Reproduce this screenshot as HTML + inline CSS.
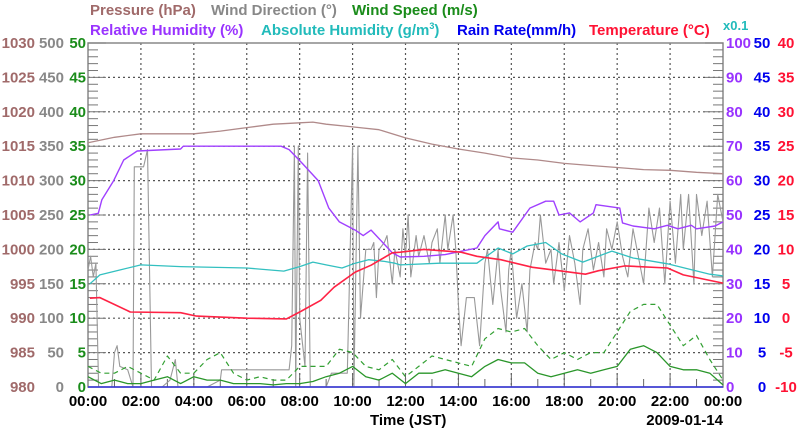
<!DOCTYPE html>
<html><head><meta charset="utf-8"><style>
html,body{margin:0;padding:0;background:#fff;}
svg{display:block;font-family:"Liberation Sans",sans-serif;font-weight:bold;}
</style></head><body>
<svg id="c" width="800" height="434" viewBox="0 0 800 434" xmlns="http://www.w3.org/2000/svg">
<g font-size="15">
<text x="90" y="15" fill="#a06a6a">Pressure (hPa)</text>
<text x="211" y="15" fill="#888">Wind Direction (°)</text>
<text x="352" y="15" fill="#1a8c1a">Wind Speed (m/s)</text>
<text x="90" y="35" fill="#9933ff">Relative Humidity (%)</text>
<text x="261" y="35" fill="#22bbbb">Absolute Humidity (g/m<tspan dy="-6" font-size="9">3</tspan><tspan dy="6">)</tspan></text>
<text x="457" y="35" fill="#0000ee">Rain Rate(mm/h)</text>
<text x="589" y="35" fill="#ff1133">Temperature (°C)</text>
<text x="723" y="30" fill="#22bbbb" font-size="13">x0.1</text>
</g>
<g id="grid"></g>
<g id="axes"></g>
<g id="series"></g>
<text x="370" y="425" font-size="15" fill="#000">Time (JST)</text>
<text x="723" y="425" font-size="15" fill="#000" text-anchor="end">2009-01-14</text>
</svg>
<script>
const xTickLabels=["00:00","02:00","04:00","06:00","08:00","10:00","12:00","14:00","16:00","18:00","20:00","22:00","00:00"];
const pressureTicks=[980,985,990,995,1000,1005,1010,1015,1020,1025,1030];
const windDirTicks=[0,50,100,150,200,250,300,350,400,450,500];
const windSpdTicks=[0,5,10,15,20,25,30,35,40,45,50];
const rhTicks=[0,10,20,30,40,50,60,70,80,90,100];
const rainTicks=[0,5,10,15,20,25,30,35,40,45,50];
const tempTicks=[-10,-5,0,5,10,15,20,25,30,35,40];

const pressureHours=[0,1,2,3,4,5,6,7,8,8.5,9,10,11,12,13,14,15,16,17,18,19,20,21,22,23,24];
const pressureVals=[1015.5,1016.3,1016.8,1016.8,1016.8,1017.2,1017.7,1018.2,1018.4,1018.5,1018.2,1017.8,1017.4,1016.2,1015.3,1014.6,1014,1013.3,1013,1012.5,1012.2,1011.9,1011.6,1011.5,1011.2,1011.0];

const rhHours=[0.07,0.39,0.52,0.97,1.35,1.86,3.5,3.6,7.3,7.6,8.1,8.7,9.1,9.5,10.1,10.4,10.7,11.5,11.8,12.7,13.5,14.7,15.0,15.5,15.55,16.05,16.7,17.3,17.6,17.8,18.2,18.6,19.1,19.2,20.1,20.2,20.6,21.4,21.9,22.3,22.8,23.0,23.7,24];
const rhVals=[50,50.5,54.4,60,66,68.6,69.2,70,70,69,65,60,52,48,45.6,44,45.6,39,37.8,38,38.5,40.4,44,48,46,45,52,54,54,50,50.6,48,50.6,53,52,47.7,46.8,46,47,46,47,46,46.8,48];

const tempHours=[0.07,0.45,1.6,3.5,4.1,6,7.5,8.0,8.8,9.3,10.1,10.7,11.5,11.8,12.7,14.1,14.7,15.6,16.8,17.8,18.8,19.3,20.3,21.9,22.5,24];
const tempVals=[2.9,3,0.9,0.8,0.3,0,-0.1,0.9,2.6,4.5,6.7,7.7,9.5,9.6,10,9.6,9,8.5,7.4,6.9,6.4,6.9,7.6,7.3,6.3,5.1];

const ahHours=[0.07,0.45,1.2,2.0,3.5,6,7.4,8.0,8.5,9.0,9.6,10.1,10.6,11.2,11.6,11.8,13.3,14.7,15.5,16.05,16.6,17.3,17.9,18.7,19.8,20.6,21.9,23.5,24];
const ahVals=[3.0,3.26,3.4,3.55,3.5,3.46,3.37,3.5,3.63,3.55,3.46,3.6,3.7,3.65,3.6,3.55,3.6,3.6,4.04,3.87,4.1,4.2,3.87,3.63,3.95,3.75,3.58,3.28,3.23];

const wdHours=[0,0.1,0.2,0.3,0.4,0.9,1.0,1.1,1.2,1.5,1.7,1.75,2.1,2.25,2.4,2.8,3.1,3.3,3.4,4.5,5.0,5.05,7.6,7.7,7.8,7.85,7.95,8.0,8.2,8.3,8.4,9.0,9.2,9.8,10.0,10.05,10.2,10.3,10.5,10.7,10.8,10.9,11.0,11.2,11.3,11.5,11.6,11.8,11.9,12.0,12.1,12.2,12.4,12.5,12.7,12.9,13.0,13.2,13.3,13.5,13.6,13.8,13.9,14.0,14.1,14.3,14.6,14.8,15.0,15.1,15.3,15.5,15.6,15.8,15.9,16.0,16.2,16.4,16.6,16.7,16.9,17.0,17.1,17.3,17.5,17.6,17.8,18.0,18.2,18.4,18.6,18.7,18.9,19.1,19.3,19.5,19.6,19.8,20.0,20.2,20.4,20.6,20.8,21.0,21.2,21.4,21.6,21.8,22.0,22.2,22.4,22.5,22.7,22.9,23.0,23.2,23.4,23.6,23.8,24];
const wdVals=[170,190,160,180,0,0,50,60,30,25,0,320,320,345,0,0,10,40,0,0,10,25,25,60,350,0,350,100,30,340,0,0,20,20,350,0,350,100,200,200,210,130,200,210,220,150,200,160,230,190,250,160,220,190,220,180,210,230,180,250,200,250,200,120,60,130,130,60,180,200,120,200,140,80,170,200,100,150,80,170,210,200,250,180,200,150,210,140,220,180,120,200,230,170,210,160,230,200,240,190,160,230,190,150,260,210,260,150,270,180,280,200,280,150,280,220,270,160,280,240];

const wsHours=[0,0.5,1,1.5,2,2.5,3,3.5,4,4.5,5,5.5,6,6.5,7,7.5,8,8.5,9,9.5,10,10.5,11,11.5,12,12.5,13,13.5,14,14.5,15,15.5,16,16.5,17,17.5,18,18.5,19,19.5,20,20.5,21,21.5,22,22.5,23,23.5,24];
const wsAvg=[1.5,0.5,1,0.5,0.5,1,1.5,0.5,1.5,1,1,0.5,0.5,0.5,0.3,0.5,0.5,0.8,1.5,2,3,1.5,1,2,0.5,2,2,2.5,2,1.5,3,4,3.5,3.5,2,1.5,2,2.5,2,2.5,3,5.5,6,5,3,2.5,2.5,2,0.3];
const wsGust=[3,2,2,3,2,1,4.5,2,2,4,5,2,1,1.5,1,1,3,3,3,5.5,5,3,2.5,4,1.5,3,4.5,4,3.5,3,7,8.5,8,8.5,6,4,5,4,5,5,8,11,12,12,9,6,7.5,4,1];
const rainHours=[0,24];
const rainVals=[0,0];

const L=88,R=723,T=43,B=387;
const NS="http://www.w3.org/2000/svg";
const xS=h=>L+(R-L)*h/24;
const lin=(lo,hi)=>v=>B-(B-T)*(v-lo)/(hi-lo);
const yP=lin(980,1030),yWD=lin(0,500),yWS=lin(0,50),yRH=lin(0,100),yAH=lin(0,10),yRain=lin(0,50),yT=lin(-10,40);
function mk(tag,attrs,parent){const e=document.createElementNS(NS,tag);for(const k in attrs)e.setAttribute(k,attrs[k]);parent.appendChild(e);return e;}
const grid=document.getElementById('grid'),axes=document.getElementById('axes'),ser=document.getElementById('series');

for(let i=1;i<12;i++){const x=xS(i*2);const g=mk('line',{x1:x,x2:x,y1:T,y2:B,stroke:'#555','stroke-width':1.2,'stroke-dasharray':'2,3'},grid);

}
for(let i=1;i<10;i++){const y=T+(B-T)*i/10;const g=mk('line',{x1:L,x2:R,y1:y,y2:y,stroke:'#555','stroke-width':1.2,'stroke-dasharray':'2,3'},grid);

}
const frame=mk('rect',{x:L,y:T,width:R-L,height:B-T,fill:'none',stroke:'#888','stroke-width':1.5},axes);


for(let i=0;i<=50;i++){const y=T+(B-T)*i/50;const len=i%5==0?18:10;
mk('line',{x1:L,x2:L+len,y1:y,y2:y,stroke:'#777','stroke-width':1},axes);
mk('line',{x1:R-len,x2:R,y1:y,y2:y,stroke:'#777','stroke-width':1},axes);}
for(let h=1;h<24;h++){const x=xS(h);mk('line',{x1:x,x2:x,y1:B,y2:B-(h%2==0?14:8),stroke:'#666','stroke-width':1},axes);}
function labels(arr,x,color,anchor,name){arr.forEach((v,i)=>{const y=B-(B-T)*i/10+5;const t=mk('text',{x:x,y:y,fill:color,'font-size':15,'text-anchor':anchor},axes);t.textContent=v;

});}
labels(pressureTicks,35,'#a06a6a','end','pressure-tick-label');
labels(windDirTicks,64,'#888','end','wind-direction-tick-label');
labels(windSpdTicks,86,'#1a8c1a','end','wind-speed-tick-label');
labels(rhTicks,726,'#9933ff','start','humidity-tick-label');
labels(rainTicks,762,'#0000ee','middle','rain-tick-label');
labels(tempTicks,786,'#ff1133','middle','temperature-tick-label');
xTickLabels.forEach((s,i)=>{const t=mk('text',{x:xS(i*2),y:406,'font-size':15,fill:'#000','text-anchor':'middle'},axes);t.textContent=s;

});

function line(hours,vals,ys,color,name,w,dash){const d=hours.map((h,i)=>(i?'L':'M')+xS(h).toFixed(1)+','+ys(vals[i]).toFixed(1)).join('');
const p=mk('path',{d:d,fill:'none',stroke:color,'stroke-width':w||1.3,'stroke-linejoin':'round'},ser);if(dash)p.setAttribute('stroke-dasharray',dash);

}
line(wdHours,wdVals,yWD,'#999','wind-direction-line',1.1);
line(wsHours,wsGust,yWS,'#33a033','wind-gust-line',1.2,'5,4');
line(wsHours,wsAvg,yWS,'#2a962a','wind-speed-line',1.3);
line(pressureHours,pressureVals,yP,'#b08a8a','pressure-line',1.3);
line(ahHours,ahVals,yAH,'#33c0c0','absolute-humidity-line',1.3);
line(rhHours,rhVals,yRH,'#a040ff','relative-humidity-line',1.4);
line(tempHours,tempVals,yT,'#ff2244','temperature-line',1.6);
line(rainHours,rainVals,yRain,'#3333dd','rain-rate-line',1.5);
</script>
</body></html>
